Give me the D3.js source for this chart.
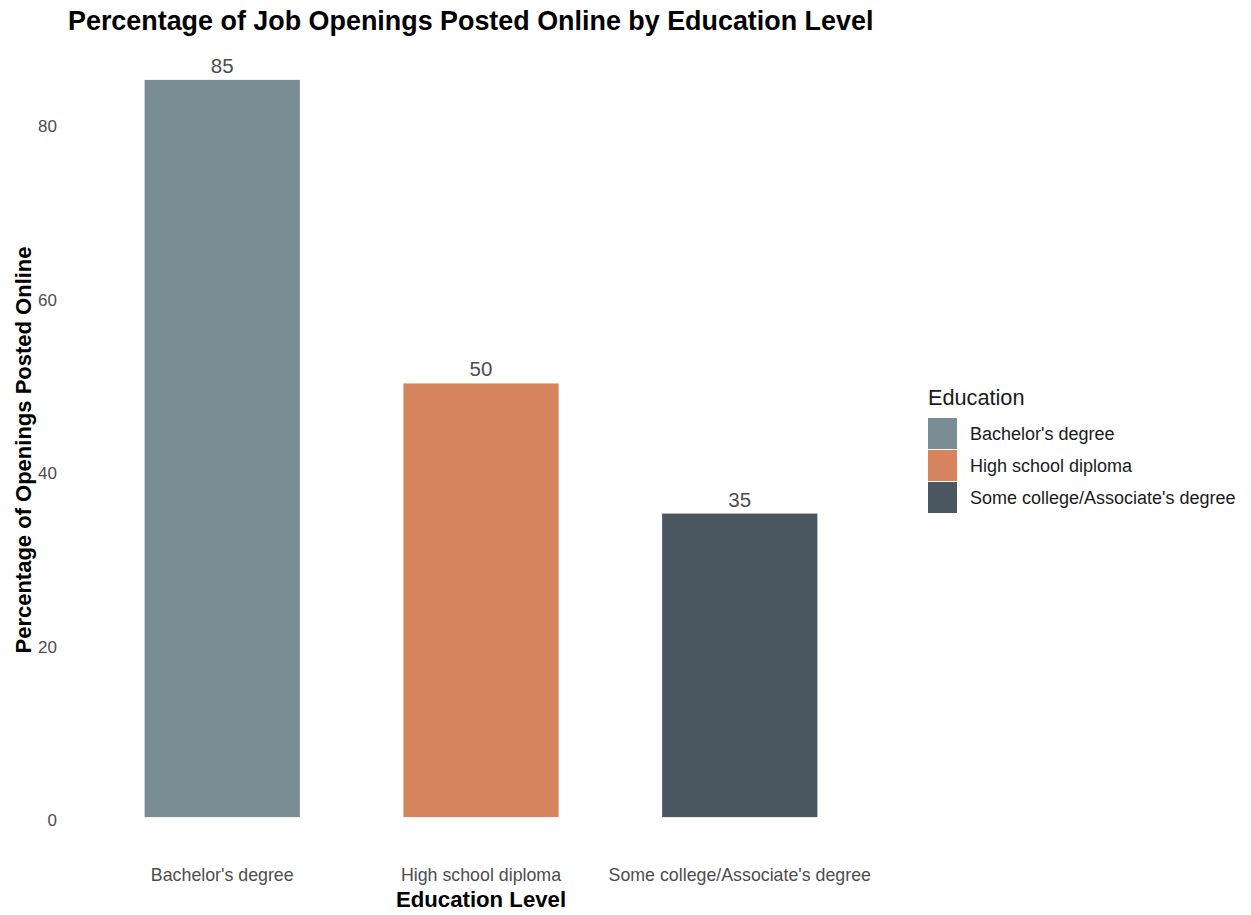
<!DOCTYPE html>
<html>
<head>
<meta charset="utf-8">
<script src="https://cdn.jsdelivr.net/npm/d3@7"></script>
<style>
  html, body { margin: 0; padding: 0; background: #ffffff; }
  svg { display: block; font-family: "Liberation Sans", Arial, sans-serif; }
</style>
</head>
<body>
<svg id="chart" width="1251" height="915"></svg>
<script>
// Education levels and share of openings posted online (%)
const categories = ["Bachelor's degree", "High school diploma", "Some college/Associate's degree"];
const values = [85, 50, 35];
const colors = ["#7b8d94", "#d5845d", "#4a5760"];
const yTicks = [0, 20, 40, 60, 80];

const svg = d3.select("#chart");
const panel = { left: 67, right: 895, top: 43, bottom: 854 };

// Discrete x scale: bars take 60% of each slot, with 0.6-slot padding at the ends
const x = d3.scaleBand()
  .domain(categories)
  .range([panel.left, panel.right])
  .paddingInner(0.4)
  .paddingOuter(0.3);

// Continuous y with 5% expansion on both sides
const yMax = d3.max(values);
const y = d3.scaleLinear()
  .domain([-yMax * 0.05, yMax * 1.05])
  .range([panel.bottom, panel.top]);

const color = d3.scaleOrdinal().domain(categories).range(colors);

// Bars
svg.append("g")
  .selectAll("rect")
  .data(categories)
  .join("rect")
  .attr("x", d => x(d))
  .attr("width", x.bandwidth())
  .attr("y", (d, i) => y(values[i]))
  .attr("height", (d, i) => y(0) - y(values[i]))
  .attr("fill", d => color(d));

// Value labels above bars
svg.append("g")
  .selectAll("text")
  .data(categories)
  .join("text")
  .attr("x", d => x(d) + x.bandwidth() / 2)
  .attr("y", (d, i) => y(values[i]) - 7)
  .attr("text-anchor", "middle")
  .attr("font-size", 20.5)
  .attr("fill", "#4d4d4d")
  .text((d, i) => values[i]);

// Y axis (labels only)
const yAxis = svg.append("g")
  .attr("transform", `translate(${panel.left - 10},3)`)
  .call(d3.axisLeft(y).tickValues(yTicks).tickSize(0).tickPadding(0));
yAxis.select(".domain").remove();
yAxis.selectAll("text")
  .attr("font-size", 17)
  .attr("fill", "#4d4d4d")
  .attr("font-family", "Liberation Sans, Arial, sans-serif");

// X axis (labels only)
const xAxis = svg.append("g")
  .attr("transform", `translate(0,${panel.bottom + 14})`)
  .call(d3.axisBottom(x).tickSize(0).tickPadding(0));
xAxis.select(".domain").remove();
xAxis.selectAll("text")
  .attr("font-size", 17.8)
  .attr("fill", "#4d4d4d")
  .attr("font-family", "Liberation Sans, Arial, sans-serif")
  .attr("dy", "0.71em");

// Title
svg.append("text")
  .attr("x", 68)
  .attr("y", 30)
  .attr("font-size", 26.9)
  .attr("font-weight", "bold")
  .attr("fill", "#000")
  .text("Percentage of Job Openings Posted Online by Education Level");

// Axis titles
svg.append("text")
  .attr("x", (panel.left + panel.right) / 2)
  .attr("y", 907)
  .attr("text-anchor", "middle")
  .attr("font-size", 22.2)
  .attr("font-weight", "bold")
  .attr("fill", "#000")
  .text("Education Level");

svg.append("text")
  .attr("transform", `translate(31,450) rotate(-90)`)
  .attr("text-anchor", "middle")
  .attr("font-size", 22)
  .attr("font-weight", "bold")
  .attr("fill", "#000")
  .text("Percentage of Openings Posted Online");

// Legend
const legend = svg.append("g").attr("transform", "translate(928,0)");
legend.append("text")
  .attr("x", 0)
  .attr("y", 405)
  .attr("font-size", 21.7)
  .attr("fill", "#1a1a1a")
  .text("Education");

const keyH = 32, keyW = 29, keyTop = 418;
const items = legend.selectAll("g.item")
  .data(categories)
  .join("g")
  .attr("class", "item")
  .attr("transform", (d, i) => `translate(0,${keyTop + i * keyH})`);
items.append("rect")
  .attr("width", keyW)
  .attr("height", keyH - 1)
  .attr("fill", d => color(d));
items.append("text")
  .attr("x", 42)
  .attr("y", keyH / 2)
  .attr("dy", "0.35em")
  .attr("font-size", 18)
  .attr("fill", "#1a1a1a")
  .text(d => d);
</script>
</body>
</html>
